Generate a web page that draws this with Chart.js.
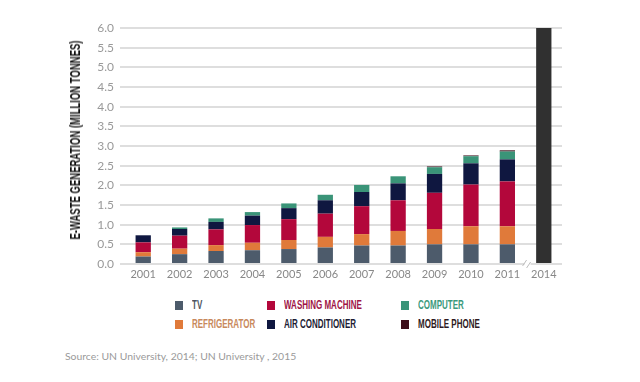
<!DOCTYPE html>
<html>
<head>
<meta charset="utf-8">
<script src="https://cdn.jsdelivr.net/npm/chart.js@4/dist/chart.umd.min.js"></script>
<style>
  html, body { margin: 0; padding: 0; background: #fff; }
  #wrap { position: relative; width: 640px; height: 382px; overflow: hidden; background: #fff; }
  #c { position: absolute; left: 0; top: 0; }
  .ytitle { position: absolute; left: 75px; top: 140px; white-space: nowrap;
    font-family: "Liberation Sans Narrow", "Liberation Sans", sans-serif; font-weight: bold; font-size: 14px; color: #111;
    transform: translate(-50%, -50%) rotate(-90deg) scaleX(0.68); }
  .leg { position: absolute; height: 12px; }
  .sw { position: absolute; left: 0; top: 1px; width: 8px; height: 9px; }
  .lt { position: absolute; left: 17px; top: -2px; white-space: nowrap; transform-origin: left center; transform: scaleX(0.64);
    font-family: "Liberation Sans Narrow", "Liberation Sans", sans-serif; font-weight: bold; font-size: 12.5px; }
  .src { position: absolute; left: 65px; top: 350px; font-family: Lato, sans-serif; font-size: 10.4px; color: #9a9a9a; white-space: nowrap; }
</style>
</head>
<body>
<div id="wrap">
  <canvas id="c" width="640" height="290"></canvas>
  <div class="ytitle">E-WASTE GENERATION (MILLION TONNES)</div>
  <div id="legend"></div>
  <div class="src">Source: UN University, 2014; UN University , 2015</div>
</div>
<script>
// ---- data ----
const categories = ["2001","2002","2003","2004","2005","2006","2007","2008","2009","2010","2011","2014"];
const tv            = [0.19, 0.25, 0.33, 0.35, 0.38, 0.42, 0.47, 0.47, 0.50, 0.50, 0.50, null];
const refrigerator  = [0.11, 0.14, 0.15, 0.19, 0.23, 0.27, 0.29, 0.37, 0.39, 0.46, 0.46, null];
const washingMachine= [0.25, 0.33, 0.40, 0.45, 0.53, 0.59, 0.71, 0.78, 0.92, 1.06, 1.14, null];
const airConditioner= [0.18, 0.17, 0.19, 0.24, 0.28, 0.34, 0.36, 0.43, 0.48, 0.54, 0.56, null];
const computer      = [0.00, 0.04, 0.09, 0.09, 0.12, 0.14, 0.18, 0.18, 0.17, 0.18, 0.20, null];
const mobilePhone   = [0.00, 0.00, 0.00, 0.00, 0.00, 0.00, 0.00, 0.00, 0.02, 0.02, 0.03, null];
const total2014     = [null, null, null, null, null, null, null, null, null, null, null, 6.0];
const seriesNames = ["TV", "REFRIGERATOR", "WASHING MACHINE", "AIR CONDITIONER", "COMPUTER", "MOBILE PHONE"];
const yTicks = [0, 0.5, 1, 1.5, 2, 2.5, 3, 3.5, 4, 4.5, 5, 5.5, 6];

// ---- styles ----
const fills = ["#4d5b6b", "#e07a3a", "#b3073b", "#0f1740", "#3a9478", "#3b0c18"];
const legendText = ["#4d5560", "#c8895c", "#9e1446", "#1c1c34", "#3b9a7c", "#2e1a22"];
const legendPos = [[175,300],[175,319],[267,300],[267,319],[401,300],[401,319]];

const seriesData = [tv, refrigerator, washingMachine, airConditioner, computer, mobilePhone];
const datasets = seriesData.map((d, i) => ({
  label: seriesNames[i], data: d, backgroundColor: fills[i], stack: "s",
  categoryPercentage: 1, barPercentage: 0.42, borderWidth: 0
}));
datasets.push({ label: "2014", data: total2014, backgroundColor: "#303030", stack: "s",
  categoryPercentage: 1, barPercentage: 0.42, borderWidth: 0 });

// legend (HTML text)
const lg = document.getElementById("legend");
seriesNames.forEach((n, i) => {
  const el = document.createElement("div");
  el.className = "leg";
  el.style.left = legendPos[i][0] + "px";
  el.style.top = legendPos[i][1] + "px";
  el.innerHTML = '<div class="sw" style="background:' + fills[i] + '"></div><div class="lt" style="color:' + legendText[i] + '">' + n + '</div>';
  lg.appendChild(el);
});

const breakMark = {
  id: "breakMark",
  afterDraw(chart) {
    const x = chart.scales.x, y = chart.scales.y;
    const cx = (x.getPixelForValue(10) + x.getPixelForValue(11)) / 2 + 2;
    const cy = y.getPixelForValue(0);
    const ctx = chart.ctx;
    ctx.save();
    ctx.fillStyle = "#fff";
    ctx.fillRect(cx - 3, cy - 2, 6, 4);
    ctx.strokeStyle = "#bdbdbd";
    ctx.lineWidth = 1;
    ctx.beginPath();
    ctx.moveTo(cx - 5, cy + 2); ctx.lineTo(cx - 1, cy - 4);
    ctx.moveTo(cx - 1, cy + 4); ctx.lineTo(cx + 3, cy - 2);
    ctx.stroke();
    ctx.restore();
  }
};

new Chart(document.getElementById("c"), {
  type: "bar",
  data: { labels: categories, datasets },
  options: {
    responsive: false, animation: false,
    layout: { padding: { left: 0, right: 78, top: 28, bottom: 0 } },
    plugins: { legend: { display: false }, tooltip: { enabled: false } },
    scales: {
      x: {
        stacked: true,
        grid: { display: false, drawTicks: false },
        border: { display: false },
        ticks: { color: "#888", font: { family: "Lato", size: 11 }, padding: 4, maxRotation: 0 },
        afterFit(s) { s.height = 26; }
      },
      y: {
        stacked: true, min: 0, max: 6,
        afterBuildTicks(s) { s.ticks = yTicks.map(v => ({ value: v })); },
        grid: { color: "#dedede", lineWidth: 2, tickLength: 5, tickColor: "#dedede" },
        border: { display: false },
        ticks: { color: "#999", font: { family: "Lato", size: 12 }, padding: 6,
          callback: v => Number(v).toFixed(1) },
        afterFit(s) { s.width = 125; }
      }
    }
  },
  plugins: [breakMark]
});
</script>
</body>
</html>
